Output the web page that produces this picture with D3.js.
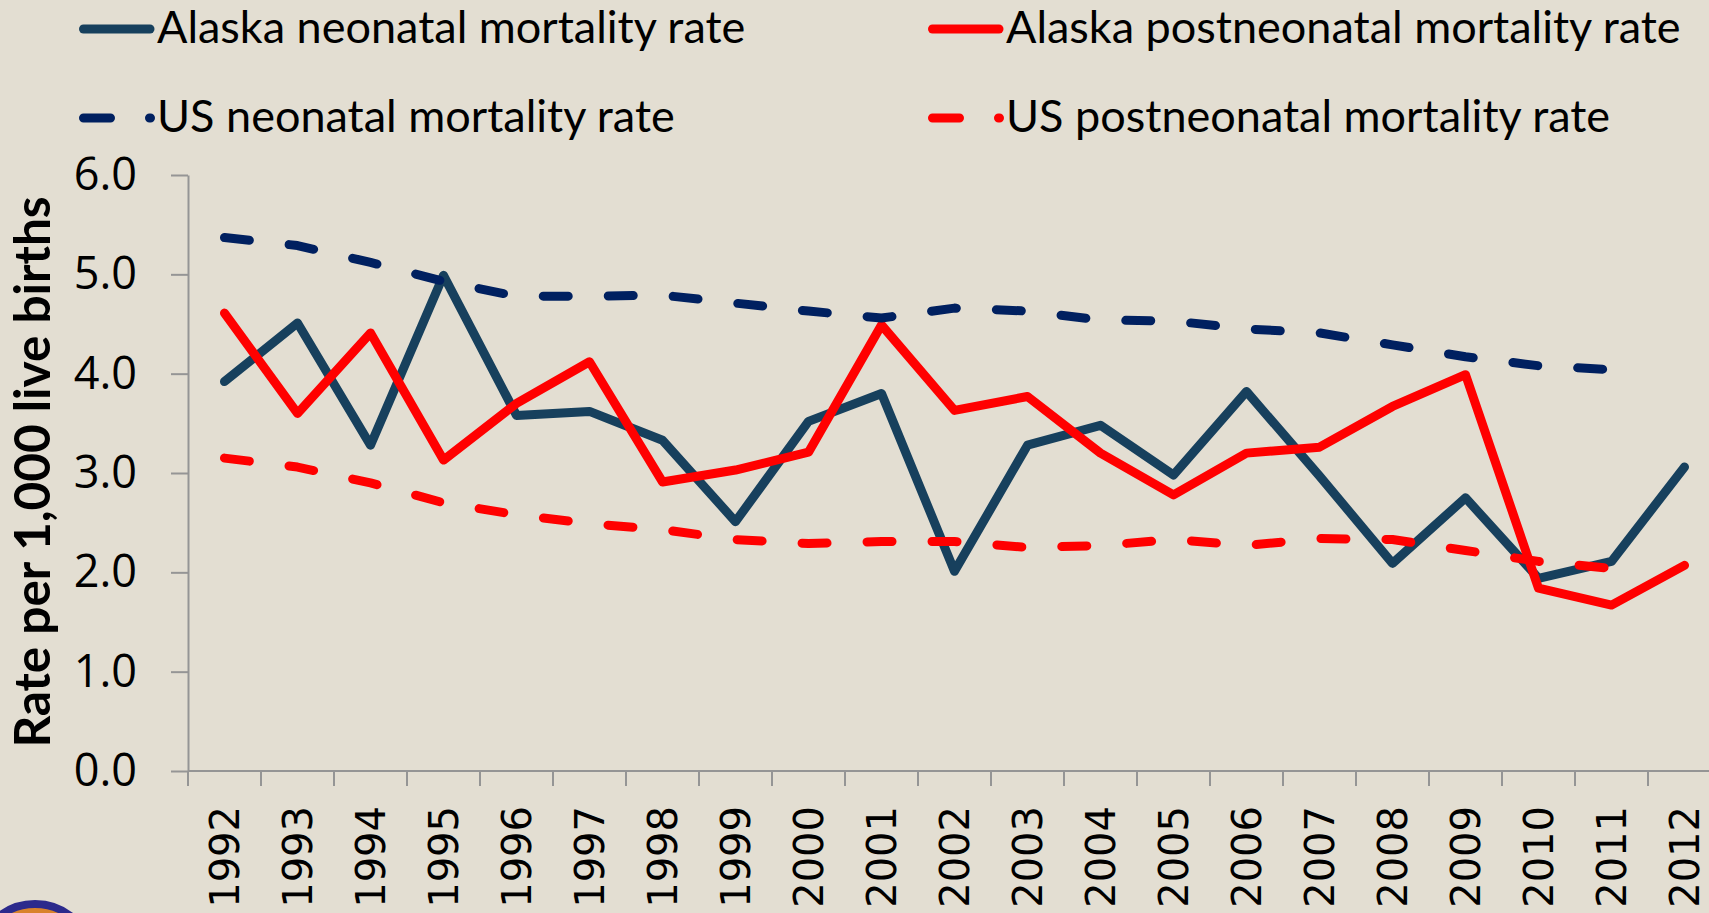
<!DOCTYPE html>
<html>
<head>
<meta charset="utf-8">
<script src="https://cdn.jsdelivr.net/npm/d3@7"></script>
<style>
  html, body { margin: 0; padding: 0; background: #E3DED2; overflow: hidden; }
  svg { display: block; }
</style>
</head>
<body>
<div id="chart"></div>
<script>
// Infant mortality components, Alaska vs US
const years = ['1992','1993','1994','1995','1996','1997','1998','1999','2000','2001','2002',
               '2003','2004','2005','2006','2007','2008','2009','2010','2011','2012'];

const akNeonatal = [3.92, 4.51, 3.28, 4.99, 3.58, 3.62, 3.33, 2.51, 3.52, 3.80, 2.01,
                    3.28, 3.48, 2.98, 3.82, 2.97, 2.09, 2.75, 1.94, 2.11, 3.06];
const akPostneonatal = [4.61, 3.60, 4.41, 3.13, 3.70, 4.12, 2.91, 3.03, 3.21, 4.49, 3.63,
                        3.77, 3.20, 2.78, 3.20, 3.26, 3.67, 3.99, 1.84, 1.67, 2.07];
const usNeonatal = [5.37, 5.29, 5.12, 4.93, 4.78, 4.78, 4.79, 4.71, 4.63, 4.56, 4.66,
                    4.63, 4.54, 4.53, 4.45, 4.41, 4.29, 4.17, 4.08, 4.04, null];
const usPostneonatal = [3.15, 3.06, 2.90, 2.70, 2.58, 2.49, 2.43, 2.33, 2.29, 2.31, 2.31,
                        2.25, 2.27, 2.33, 2.27, 2.34, 2.33, 2.22, 2.11, 2.04, null];

const yTicks = [0, 1, 2, 3, 4, 5, 6];

const series = [
  { name: 'Alaska neonatal mortality rate', values: akNeonatal, color: '#17405D', dash: null },
  { name: 'Alaska postneonatal mortality rate', values: akPostneonatal, color: '#FF0000', dash: null },
  { name: 'US neonatal mortality rate', values: usNeonatal, color: '#002060', dash: '25,40' },
  { name: 'US postneonatal mortality rate', values: usPostneonatal, color: '#FF0000', dash: '25,40' }
];

const width = 1709, height = 913;
const svg = d3.select('#chart').append('svg')
  .attr('width', width)
  .attr('height', height);

svg.append('rect').attr('width', width).attr('height', height).attr('fill', '#E3DED2');

// scales - the plot runs off the right edge like the original slide
const x = d3.scaleBand().domain(years).range([188, 188 + 21 * 73]);
const y = d3.scaleLinear().domain([0, 6]).range([771, 175]);
const xc = d => x(d) + x.bandwidth() / 2;

// y axis
const yAxis = svg.append('g')
  .attr('transform', 'translate(188,0)')
  .call(d3.axisLeft(y).tickValues(yTicks).tickFormat(d3.format('.1f'))
    .tickSize(17).tickSizeOuter(0).tickPadding(34));
yAxis.select('.domain').attr('stroke', '#959595').attr('stroke-width', 2);
yAxis.selectAll('.tick line').attr('stroke', '#959595').attr('stroke-width', 2);
yAxis.selectAll('.tick text')
  .attr('font-family', '"Open Sans", sans-serif')
  .attr('font-size', 45)
  .attr('fill', '#000');

// x axis: line, ticks between categories, rotated labels
svg.append('line')
  .attr('x1', 188).attr('x2', width)
  .attr('y1', y(0)).attr('y2', y(0))
  .attr('stroke', '#959595').attr('stroke-width', 2);

svg.append('g').selectAll('line')
  .data(years.map(d => x(d)).concat([x.range()[1]]))
  .join('line')
  .attr('x1', d => d).attr('x2', d => d)
  .attr('y1', y(0)).attr('y2', y(0) + 15)
  .attr('stroke', '#959595').attr('stroke-width', 2);

svg.append('g').selectAll('text')
  .data(years)
  .join('text')
  .attr('transform', d => `translate(${xc(d)},806) rotate(-90)`)
  .attr('text-anchor', 'end')
  .attr('dy', '0.36em')
  .attr('font-family', '"DejaVu Sans", sans-serif')
  .attr('font-size', 40)
  .attr('fill', '#000')
  .text(d => d);

// y axis title
svg.append('text')
  .attr('transform', 'translate(50,472) rotate(-90)')
  .attr('text-anchor', 'middle')
  .attr('font-family', 'Lato, sans-serif')
  .attr('font-weight', 'bold')
  .attr('font-size', 49.5)
  .attr('fill', '#000')
  .text('Rate per 1,000 live births');

// lines
const line = d3.line()
  .defined(d => d.v != null)
  .x(d => xc(d.year))
  .y(d => y(d.v));

svg.append('g').selectAll('path')
  .data(series)
  .join('path')
  .attr('d', s => line(years.map((yr, i) => ({ year: yr, v: s.values[i] }))))
  .attr('fill', 'none')
  .attr('stroke', s => s.color)
  .attr('stroke-width', 9)
  .attr('stroke-linecap', 'round')
  .attr('stroke-linejoin', 'round')
  .attr('stroke-dasharray', s => s.dash);

// legend, 2 x 2
const legendPos = [[79, 29], [928, 29], [79, 118], [928, 118]];
const legend = svg.append('g').selectAll('g')
  .data(series)
  .join('g')
  .attr('transform', (s, i) => `translate(${legendPos[i][0]},${legendPos[i][1]})`);

legend.append('line')
  .attr('x1', 4.5).attr('x2', s => s.dash ? 71.5 : 71)
  .attr('y1', 0).attr('y2', 0)
  .attr('stroke', s => s.color)
  .attr('stroke-width', 9)
  .attr('stroke-linecap', 'round')
  .attr('stroke-dasharray', s => s.dash ? '27,39' : null);

legend.append('text')
  .attr('x', 78)
  .attr('y', 14)
  .attr('font-family', 'Lato, sans-serif')
  .attr('font-size', 45)
  .attr('fill', '#000')
  .text(s => s.name);

// partial logo in the bottom-left corner
svg.append('circle')
  .attr('cx', 35).attr('cy', 962).attr('r', 58)
  .attr('fill', '#D9822B')
  .attr('stroke', '#2C2A8C')
  .attr('stroke-width', 8);
</script>
</body>
</html>
